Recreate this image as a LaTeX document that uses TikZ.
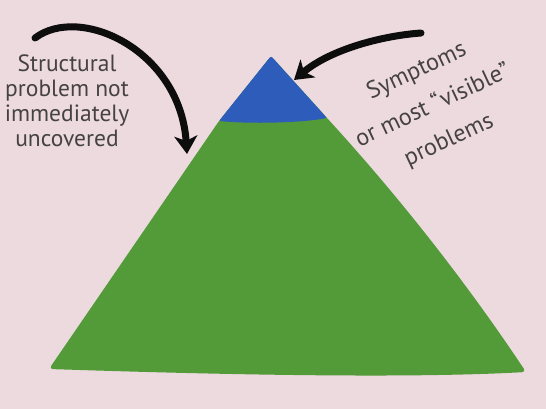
\documentclass[tikz,border=0pt]{standalone}
\usepackage{fontspec}
\setmainfont{PT Sans}
\usepackage{xcolor}
\usetikzlibrary{arrows.meta,positioning}
\definecolor{paperpink}{RGB}{236,218,223}
\definecolor{hillgreen}{RGB}{82,155,56}
\definecolor{peakblue}{RGB}{46,92,186}
\definecolor{pencil}{RGB}{70,66,68}

\begin{document}
\begin{tikzpicture}[x=1pt,y=-1pt,
	scribble/.style={text=pencil, align=center, inner sep=0pt, font=\fontsize{23.5}{25}\selectfont},
	fatarrow/.style={draw=black!95, line width=7pt, line cap=round, -{Stealth[length=18pt,width=23pt,inset=5pt]}}]
\useasboundingbox (0,0) rectangle (546,409);
\fill[paperpink] (0,0) rectangle (546,409); % the paper

% corners of the pyramid
\coordinate (peak) at (271,56);
\coordinate (tipL) at (219,121); % left end of the blue cap
\coordinate (tipR) at (327,118); % right end of the blue cap
\coordinate (baseL) at (49,369);
\coordinate (baseR) at (526,372);

\fill[hillgreen, rounded corners=4pt] (peak) -- (tipL) -- (baseL) .. controls (200,374) and (400,379) .. (baseR) .. controls (466,282) and (400,198) .. (tipR) -- cycle; % body
\fill[peakblue, rounded corners=2pt] (peak) -- (tipL) .. controls (250,124) and (300,123) .. (tipR) -- cycle; % visible tip

\node[scribble] (structural) at (67,101) {Structural\\problem not\\immediately\\uncovered};
\node[scribble, rotate=25, font=\fontsize{24}{38}\selectfont] (symptoms) at (433,106) {Symptoms\\or most “visible”\\problems};

\coordinate (structTail) at (35,38);
\coordinate (structHead) at (187,154);
\draw[fatarrow] (structTail) .. controls (80,4) and (180,50) .. (structHead);

\coordinate (sympTail) at (421,33);
\coordinate (sympHead) at (294,80);
\draw[fatarrow] (sympTail) .. controls (380,36) and (330,50) .. (sympHead);
\end{tikzpicture}
\end{document}
